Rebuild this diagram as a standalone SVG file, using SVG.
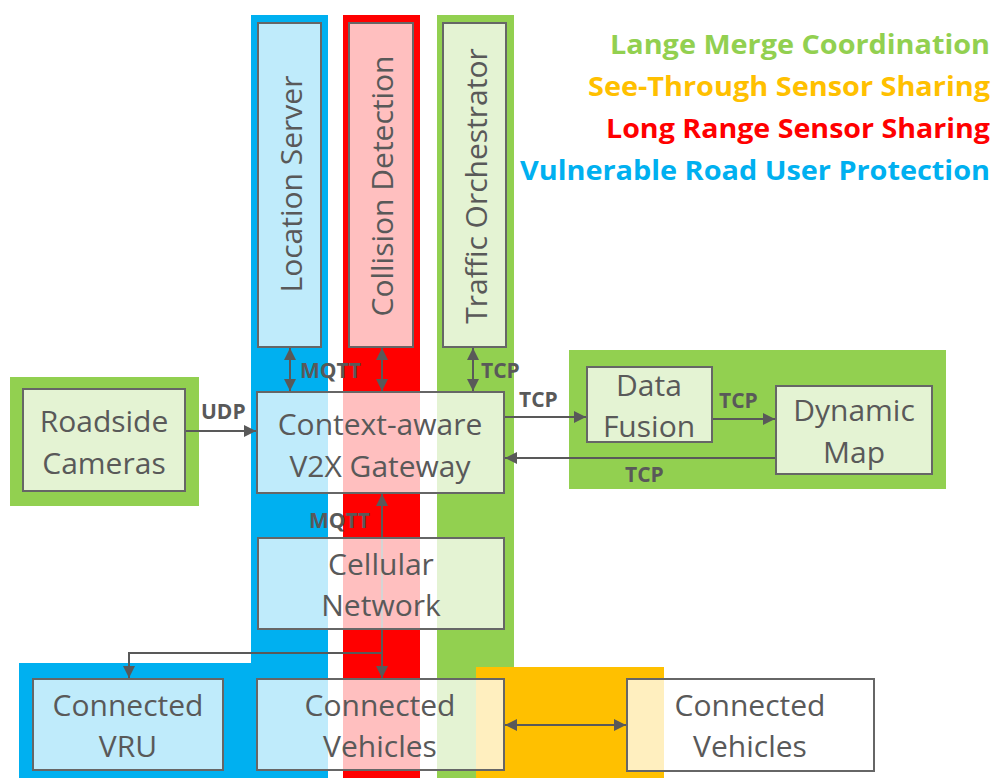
<svg xmlns="http://www.w3.org/2000/svg" width="995" height="778" viewBox="0 0 995 778">
  <style>
    .node { fill: #ffffff; fill-opacity: 0.75; stroke: #666666; stroke-width: 2; }
    .lbl { font-family: "Open Sans", "Liberation Sans", sans-serif; font-size: 30px; fill: #595959; text-anchor: middle; }
    .proto { font-family: "Open Sans", "Liberation Sans", sans-serif; font-size: 21px; font-weight: bold; fill: #595959; }
    .wire { fill: none; stroke: #595959; stroke-width: 2; }
    .legend { font-family: "Open Sans", "Liberation Sans", sans-serif; font-size: 26px; font-weight: bold; text-anchor: end; }
  </style>
  <defs>
    <marker id="arrow" viewBox="0 0 10 10" refX="10" refY="5" markerWidth="6" markerHeight="6" markerUnits="strokeWidth" orient="auto-start-reverse">
      <path d="M0,0 L10,5 L0,10 z" fill="#595959"/>
    </marker>
  </defs>

  <rect width="995" height="778" fill="#ffffff"/>

  <!-- use-case bands -->
  <g id="bands">
    <rect x="251" y="15" width="77" height="763" fill="#00b0f0"/>
    <rect x="19" y="663" width="309" height="115" fill="#00b0f0"/>
    <rect x="343" y="15" width="77" height="763" fill="#ff0000"/>
    <rect x="437" y="15" width="77" height="763" fill="#92d050"/>
    <rect x="476" y="667" width="188" height="111" fill="#ffc000"/>
    <rect x="10" y="377" width="189" height="129" fill="#92d050"/>
    <rect x="569" y="350" width="377" height="139" fill="#92d050"/>
  </g>

  <!-- legend -->
  <g id="legend">
    <text class="legend" x="990" y="54" fill="#92d050" textLength="380" lengthAdjust="spacingAndGlyphs">Lange Merge Coordination</text>
    <text class="legend" x="990" y="96" fill="#ffc000" textLength="402" lengthAdjust="spacingAndGlyphs">See-Through Sensor Sharing</text>
    <text class="legend" x="990" y="138" fill="#ff0000" textLength="384" lengthAdjust="spacingAndGlyphs">Long Range Sensor Sharing</text>
    <text class="legend" x="990" y="180" fill="#00b0f0" textLength="470" lengthAdjust="spacingAndGlyphs">Vulnerable Road User Protection</text>
  </g>

  <!-- connectors -->
  <g id="connectors">
    <line class="wire" x1="290" y1="348" x2="290" y2="391" marker-start="url(#arrow)" marker-end="url(#arrow)"/>
    <line class="wire" x1="382" y1="348" x2="382" y2="391" marker-start="url(#arrow)" marker-end="url(#arrow)"/>
    <line class="wire" x1="473" y1="348" x2="473" y2="391" marker-start="url(#arrow)" marker-end="url(#arrow)"/>
    <line class="wire" x1="185" y1="431" x2="256" y2="431" marker-end="url(#arrow)"/>
    <line class="wire" x1="504" y1="417" x2="586" y2="417" marker-end="url(#arrow)"/>
    <line class="wire" x1="712" y1="419" x2="775" y2="419" marker-end="url(#arrow)"/>
    <line class="wire" x1="776" y1="458" x2="505" y2="458" marker-end="url(#arrow)"/>
    <line class="wire" x1="382" y1="653" x2="382" y2="494" marker-end="url(#arrow)"/>
    <polyline class="wire" points="382,653 129,653 129,678" marker-end="url(#arrow)"/>
    <line class="wire" x1="382" y1="653" x2="382" y2="678" marker-end="url(#arrow)"/>
    <line class="wire" x1="505" y1="725" x2="626" y2="725" marker-start="url(#arrow)" marker-end="url(#arrow)"/>
    <text class="proto" x="300" y="378">MQTT</text>
    <text class="proto" x="481" y="378">TCP</text>
    <text class="proto" x="201" y="419">UDP</text>
    <text class="proto" x="519" y="407">TCP</text>
    <text class="proto" x="719" y="408">TCP</text>
    <text class="proto" x="625" y="482">TCP</text>
    <text class="proto" x="309" y="528">MQTT</text>
  </g>

  <!-- nodes -->
  <g id="location-server">
    <rect class="node" x="258" y="23" width="63" height="324"/>
    <text class="lbl" transform="translate(290,184) rotate(-90)" dominant-baseline="central">Location Server</text>
  </g>
  <g id="collision-detection">
    <rect class="node" x="349" y="23" width="64" height="324"/>
    <text class="lbl" transform="translate(381,186) rotate(-90)" dominant-baseline="central">Collision Detection</text>
  </g>
  <g id="traffic-orchestrator">
    <rect class="node" x="443" y="23" width="63" height="324"/>
    <text class="lbl" transform="translate(475,186) rotate(-90)" dominant-baseline="central">Traffic Orchestrator</text>
  </g>
  <g id="roadside-cameras">
    <rect class="node" x="23" y="389" width="162" height="102"/>
    <text class="lbl" x="104" y="432">Roadside</text>
    <text class="lbl" x="104" y="474">Cameras</text>
  </g>
  <g id="gateway">
    <rect class="node" x="257" y="392" width="247" height="101"/>
    <text class="lbl" x="380" y="435">Context-aware</text>
    <text class="lbl" x="380" y="477">V2X Gateway</text>
  </g>
  <g id="data-fusion">
    <rect class="node" x="587" y="367" width="125" height="75"/>
    <text class="lbl" x="649" y="396">Data</text>
    <text class="lbl" x="649" y="437">Fusion</text>
  </g>
  <g id="dynamic-map">
    <rect class="node" x="776" y="386" width="156" height="88"/>
    <text class="lbl" x="854" y="421">Dynamic</text>
    <text class="lbl" x="854" y="463">Map</text>
  </g>
  <g id="cellular-network">
    <rect class="node" x="258" y="538" width="246" height="91"/>
    <text class="lbl" x="381" y="575">Cellular</text>
    <text class="lbl" x="381" y="616">Network</text>
  </g>
  <g id="connected-vru">
    <rect class="node" x="33" y="679" width="190" height="91"/>
    <text class="lbl" x="128" y="716">Connected</text>
    <text class="lbl" x="128" y="757">VRU</text>
  </g>
  <g id="connected-vehicles-a">
    <rect class="node" x="257" y="679" width="247" height="91"/>
    <text class="lbl" x="380" y="716">Connected</text>
    <text class="lbl" x="380" y="757">Vehicles</text>
  </g>
  <g id="connected-vehicles-b">
    <rect class="node" x="627" y="679" width="247" height="92"/>
    <text class="lbl" x="750" y="716">Connected</text>
    <text class="lbl" x="750" y="757">Vehicles</text>
  </g>
</svg>
